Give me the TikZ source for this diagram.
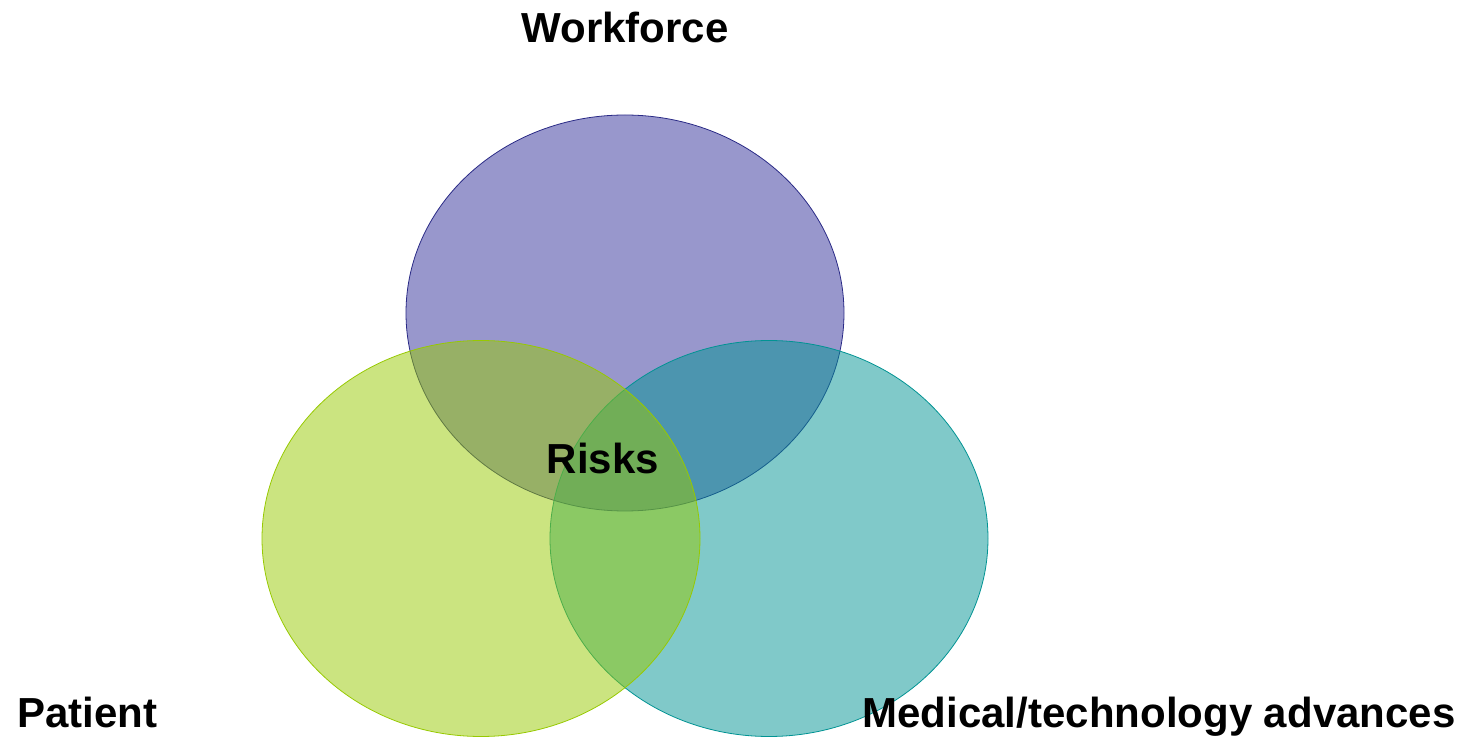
\documentclass[tikz,border=0pt]{standalone}
\usepackage{fontspec}
\setmainfont{Liberation Sans}
\usetikzlibrary{shapes.geometric}
\definecolor{wfblue}{HTML}{31309A}
\definecolor{wfline}{HTML}{2A2A86}
\definecolor{ptgreen}{HTML}{97C901}
\definecolor{mdteal}{HTML}{019393}

\begin{document}
\begin{tikzpicture}[x=0.5pt,y=-0.5pt,semithick,
                    circ/.style={ellipse,inner sep=0pt,minimum width=219pt,minimum height=198pt,line width=0.4pt,fill opacity=0.5},
                    lbl/.style={inner sep=0pt,font=\fontsize{21}{25}\selectfont\bfseries}]
                    \useasboundingbox (0,0) rectangle (1474,737);
                    \node[circ, draw=wfline, fill=wfblue] (wf) at (625,313) {};
                    \node[circ, draw=mdteal, fill=mdteal] (md) at (769,538.5) {};
                    \node[circ, draw=ptgreen, fill=ptgreen] (pt) at (481,538.5) {};

                    \node[lbl, anchor=base] (wflbl) at (625,43) {Workforce};
                    \node[lbl, anchor=base west] (ptlbl) at (17,727) {Patient};
                    \node[lbl, anchor=base west] (mdlbl) at (862,727) {Medical/technology advances};
                    \node[lbl, anchor=base] (risks) at (603,474) {Risks};
                \end{tikzpicture}
\end{document}
